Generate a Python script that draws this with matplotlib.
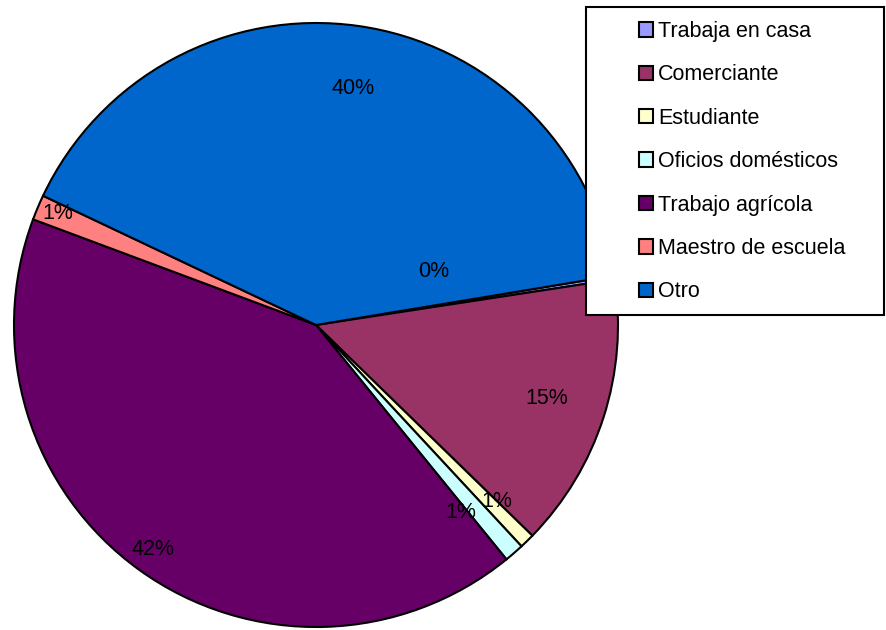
import matplotlib
matplotlib.use("Agg")
import matplotlib.pyplot as plt
from matplotlib.patches import Rectangle, Patch

categories = ["Trabaja en casa", "Comerciante", "Estudiante", "Oficios domésticos",
              "Trabajo agrícola", "Maestro de escuela", "Otro"]
values = [0.2, 14.7, 0.8, 1.05, 41.55, 1.35, 40.35]
colors = ["#9999FF", "#993366", "#FFFFCC", "#CCFFFF", "#660066", "#FF8080", "#0066CC"]

# label positions (x, y) in pie-radius units
label_pos = [(0.391, 0.176), (0.765, -0.243), (0.599, -0.583), (0.480, -0.620),
             (-0.540, -0.743), (-0.854, 0.370), (0.123, 0.783)]

W, H = 887, 630
fig = plt.figure(figsize=(W / 100, H / 100), dpi=100)
fig.patch.set_facecolor("white")

cx, cy, r = 316, 325, 302
ax = fig.add_axes([(cx - r) / W, (H - cy - r) / H, 2 * r / W, 2 * r / H])

FONT = "Liberation Sans"
FS = 15.5

wedges, texts, autotexts = ax.pie(
    values, colors=colors, startangle=9.4, counterclock=False,
    autopct="%1.0f%%", radius=1.0,
    wedgeprops=dict(edgecolor="black", linewidth=1.5),
    textprops=dict(fontsize=FS, family=FONT, color="black"),
)
ax.set_xlim(-1, 1)
ax.set_ylim(-1, 1)
ax.axis("off")
for w in wedges:
    w.set_clip_on(False)
for t, (x, y) in zip(autotexts, label_pos):
    t.set_position((x, y))
    t.set_ha("center")
    t.set_va("center")

# legend frame
x0, y0, x1, y1 = 586, 7, 884, 315
fig.patches.append(Rectangle((x0 / W, 1 - y1 / H), (x1 - x0) / W, (y1 - y0) / H,
                             transform=fig.transFigure, facecolor="white",
                             edgecolor="black", linewidth=1.5, zorder=5))

handles = [Patch(facecolor=c, edgecolor="black", linewidth=1.5) for c in colors]
leg = fig.legend(handles, categories, loc="upper left",
                 bbox_to_anchor=(639 / W, 1 - 21 / H), frameon=False,
                 borderpad=0, borderaxespad=0, handlelength=0.65, handleheight=0.65,
                 handletextpad=0.25, labelspacing=1.04,
                 prop=dict(family=FONT, size=FS))
leg.set_zorder(6)

fig.savefig("out.png", dpi=100, facecolor="white")
